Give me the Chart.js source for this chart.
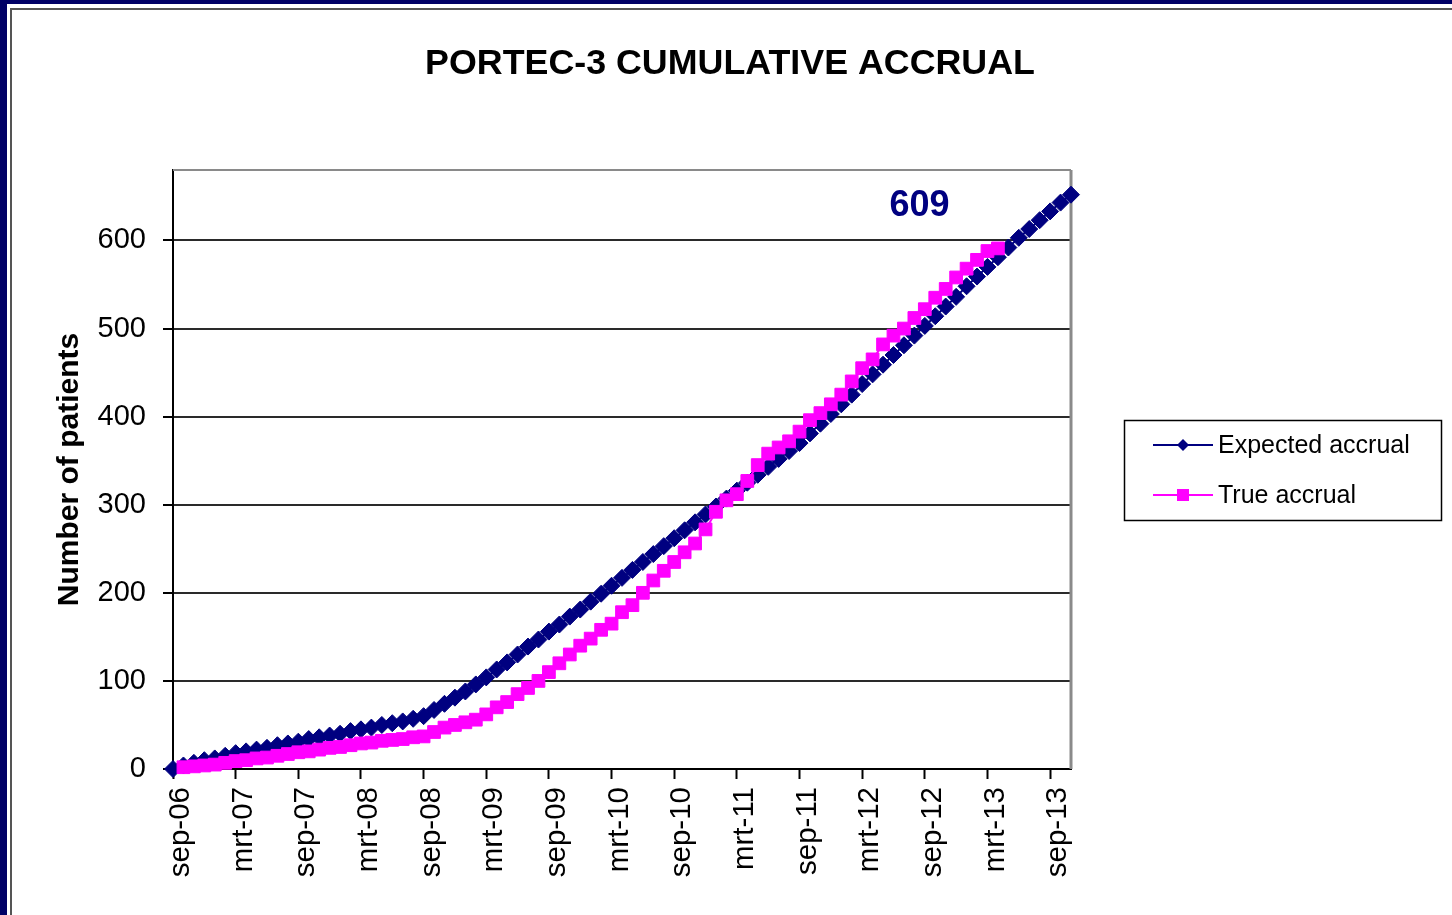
<!DOCTYPE html>
<html>
<head>
<meta charset="utf-8">
<title>PORTEC-3 cumulative accrual</title>
<script src="https://cdn.jsdelivr.net/npm/chart.js@4.4.0/dist/chart.umd.min.js"></script>
<style>
  body { margin: 0; width: 1452px; height: 915px; overflow: hidden; position: relative; background: #fff; }
  .bar-top { position: absolute; left: 0; top: 0; width: 1452px; height: 4px; background: #000066; }
  .bar-left { position: absolute; left: 0; top: 0; width: 7px; height: 915px; background: #000066; }
  .slide { position: absolute; left: 10px; top: 8px; width: 1460px; height: 920px; border-left: 2px solid #555; border-top: 2px solid #555; }
  #myChart { position: absolute; left: 0; top: 0; }
</style>
</head>
<body>
<div class="bar-top"></div>
<div class="bar-left"></div>
<div class="slide"></div>
<canvas id="myChart" width="1452" height="915"></canvas>
<script>
// monthly categories, sep-06 .. nov-13
const months = [
  'sep-06','okt-06','nov-06','dec-06','jan-07','feb-07','mrt-07','apr-07','mei-07','jun-07','jul-07','aug-07',
  'sep-07','okt-07','nov-07','dec-07','jan-08','feb-08','mrt-08','apr-08','mei-08','jun-08','jul-08','aug-08',
  'sep-08','okt-08','nov-08','dec-08','jan-09','feb-09','mrt-09','apr-09','mei-09','jun-09','jul-09','aug-09',
  'sep-09','okt-09','nov-09','dec-09','jan-10','feb-10','mrt-10','apr-10','mei-10','jun-10','jul-10','aug-10',
  'sep-10','okt-10','nov-10','dec-10','jan-11','feb-11','mrt-11','apr-11','mei-11','jun-11','jul-11','aug-11',
  'sep-11','okt-11','nov-11','dec-11','jan-12','feb-12','mrt-12','apr-12','mei-12','jun-12','jul-12','aug-12',
  'sep-12','okt-12','nov-12','dec-12','jan-13','feb-13','mrt-13','apr-13','mei-13','jun-13','jul-13','aug-13',
  'sep-13','okt-13','nov-13'
];

// labels shown on the x axis
const tickLabels = ['sep-06','mrt-07','sep-07','mrt-08','sep-08','mrt-09','sep-09','mrt-10',
                    'sep-10','mrt-11','sep-11','mrt-12','sep-12','mrt-13','sep-13'];

const yTicks = [0, 100, 200, 300, 400, 500, 600];

const expectedAccrual = [
  0, 4, 7, 10, 12, 15, 18, 20, 22, 24, 27, 29,
  31, 34, 36, 38, 40, 43, 45, 47, 50, 52, 54, 57,
  60, 67, 74, 81, 88, 96, 104, 113, 121, 130, 139, 147,
  156, 164, 173, 181, 190, 199, 208, 217, 226, 235, 244, 253,
  262, 271, 280, 289, 298, 307, 316, 325, 334, 343, 352, 361,
  370, 381, 392, 403, 414, 425, 437, 448, 459, 470, 481, 492,
  503, 514, 525, 536, 548, 559, 570, 581, 592, 603, 613, 623,
  633, 643, 652
];

const trueAccrual = [
  null, 2, 3, 4, 5, 7, 9, 10, 12, 13, 15, 17,
  19, 20, 22, 24, 25, 27, 29, 30, 32, 33, 34, 36,
  37, 42, 47, 50, 53, 56, 62, 70, 76, 85, 92, 100,
  110, 120, 130, 140, 148, 158, 165, 178, 186, 200, 214, 225,
  235, 246, 256, 272, 292, 305, 312, 327, 345, 358, 365, 372,
  383, 396, 404, 414, 425, 440, 455, 465, 482, 492, 500, 512,
  522, 535, 545, 558, 568, 578, 588, 591
];

const chartTitle = 'PORTEC-3 CUMULATIVE ACCRUAL';
const yTitle = 'Number of patients';
const noteText = '609';
const noteAt = { index: 71.5, value: 639 };

const FONT = '"Liberation Sans", Arial, Helvetica, sans-serif';
const NAVY = '#000080';
const PINK = '#ff00ff';

function marker(ctx, style, x, y, color) {
  ctx.fillStyle = color;
  ctx.beginPath();
  if (style === 'rectRot') {
    ctx.moveTo(x - 6, y); ctx.lineTo(x, y - 6); ctx.lineTo(x + 6, y); ctx.lineTo(x, y + 6);
  } else {
    ctx.rect(x - 6, y - 6, 12, 12);
  }
  ctx.closePath();
  ctx.fill();
}

const extras = {
  id: 'extras',
  beforeDatasetsDraw(chart) {
    const { ctx, chartArea } = chart;
    ctx.save();
    ctx.strokeStyle = '#8a8a8a';
    ctx.lineWidth = 2;
    ctx.beginPath();
    ctx.moveTo(chartArea.left, chartArea.top);
    ctx.lineTo(chartArea.right, chartArea.top);
    ctx.stroke();
    ctx.lineWidth = 3;
    ctx.beginPath();
    ctx.moveTo(chartArea.right, chartArea.top);
    ctx.lineTo(chartArea.right, chartArea.bottom);
    ctx.stroke();
    ctx.restore();
  },
  afterDraw(chart) {
    const ctx = chart.ctx;
    const xs = chart.scales.x, ys = chart.scales.y;
    ctx.save();
    // title
    ctx.fillStyle = '#000';
    ctx.font = 'bold 35.8px ' + FONT;
    ctx.textAlign = 'center';
    ctx.textBaseline = 'middle';
    ctx.fillText(chartTitle, 730, 64);

    // 609 note
    ctx.fillStyle = NAVY;
    ctx.font = 'bold 36px ' + FONT;
    ctx.fillText(noteText, xs.getPixelForValue(noteAt.index), ys.getPixelForValue(noteAt.value));

    // legend box
    ctx.strokeStyle = '#000';
    ctx.lineWidth = 1.5;
    ctx.strokeRect(1124.5, 420.5, 317, 100);
    ctx.font = '25px ' + FONT;
    ctx.textAlign = 'left';
    chart.data.datasets.forEach((ds, i) => {
      const y = 445 + i * 50;
      ctx.strokeStyle = ds.borderColor;
      ctx.lineWidth = 2;
      ctx.beginPath();
      ctx.moveTo(1153, y);
      ctx.lineTo(1213, y);
      ctx.stroke();
      marker(ctx, ds.pointStyle, 1183, y, ds.borderColor);
      ctx.fillStyle = '#000';
      ctx.fillText(ds.label, 1218, y + 1);
    });
    ctx.restore();
  }
};

const ctx = document.getElementById('myChart').getContext('2d');
const accrualChart = new Chart(ctx, {
  type: 'line',
  data: {
    labels: months,
    datasets: [{
      label: 'Expected accrual',
      data: expectedAccrual,
      borderColor: NAVY,
      backgroundColor: NAVY,
      borderWidth: 2,
      pointStyle: 'rectRot',
      pointRadius: 8.5,
      pointBorderWidth: 1,
      pointBackgroundColor: NAVY,
      pointBorderColor: NAVY,
      tension: 0,
      clip: false,
      order: 2
    }, {
      label: 'True accrual',
      data: trueAccrual,
      borderColor: PINK,
      backgroundColor: PINK,
      borderWidth: 2,
      pointStyle: 'rect',
      pointRadius: 9,
      pointBorderWidth: 1,
      pointBackgroundColor: PINK,
      pointBorderColor: PINK,
      tension: 0,
      clip: false,
      order: 1
    }]
  },
  options: {
    responsive: false,
    animation: false,
    events: [],
    layout: { padding: { left: 40, top: 170, right: 381, bottom: 0 } },
    plugins: {
      legend: { display: false },
      title: { display: false },
      tooltip: { enabled: false }
    },
    scales: {
      x: {
        type: 'category',
        afterFit(scale) { scale.height = 146; },
        border: { display: true, color: '#000', width: 2 },
        grid: {
          drawOnChartArea: false,
          drawTicks: true,
          tickLength: 10,
          tickWidth: 2,
          tickColor: c => tickLabels.includes(months[c.index]) ? '#000' : 'rgba(0,0,0,0)'
        },
        ticks: {
          autoSkip: false,
          minRotation: 90,
          maxRotation: 90,
          padding: 8,
          labelOffset: 8,
          color: '#000',
          font: { family: FONT, size: 29.5 },
          callback: (v, i) => tickLabels.includes(months[i]) ? months[i] : ''
        }
      },
      y: {
        min: 0,
        max: 680,
        afterFit(scale) { scale.width = 133; },
        border: { display: true, color: '#000', width: 2 },
        grid: {
          color: '#2a2a2a',
          lineWidth: 2,
          drawTicks: true,
          tickLength: 10,
          tickColor: '#000'
        },
        afterBuildTicks(scale) { scale.ticks = yTicks.map(v => ({ value: v })); },
        ticks: {
          padding: 17,
          color: '#000',
          font: { family: FONT, size: 29 }
        },
        title: {
          display: true,
          text: yTitle,
          color: '#000',
          font: { family: FONT, size: 30, weight: 'bold' },
          padding: { top: 12, bottom: 0 }
        }
      }
    }
  },
  plugins: [extras]
});
</script>
</body>
</html>
